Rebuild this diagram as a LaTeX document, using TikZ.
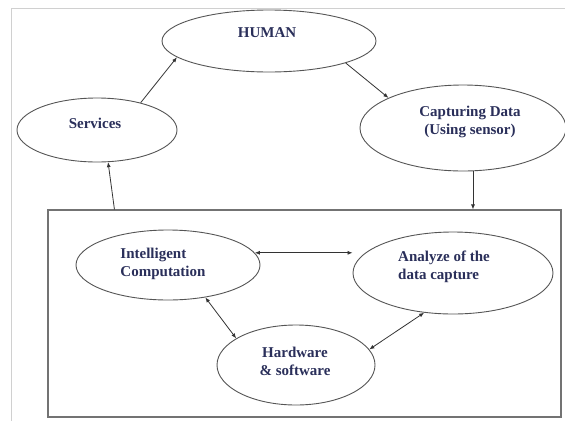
\documentclass[tikz,border=0pt]{standalone}
\usepackage{fontspec}
\setmainfont{Liberation Serif}
\usetikzlibrary{shapes.geometric,arrows.meta}
\definecolor{inkline}{HTML}{555555}
\definecolor{inktext}{HTML}{2A2F5A}
\definecolor{framegray}{HTML}{D0D0D0}
\tikzset{
  bubble/.style={ellipse, draw=inkline, line width=0.9pt, inner sep=0pt},
  caption/.style={text=inktext, font=\bfseries\fontsize{15}{18}\selectfont, inner sep=0pt},
  link/.style={draw=black!80, line width=0.8pt, -{Latex[length=5pt,width=4pt]}},
  duplex/.style={draw=black!80, line width=0.8pt, {Latex[length=5pt,width=4pt]}-{Latex[length=5pt,width=4pt]}},
  panel/.style={rectangle, draw=black!55, line width=1.1pt, inner sep=0pt}
}
\begin{document}
\begin{tikzpicture}[x=1pt,y=-1pt]
\useasboundingbox (0,0) rectangle (565,421);
\fill[white] (0,0) rectangle (565,421);
% light page frame
\draw[framegray, line width=1pt] (565,8) -- (11,8) -- (11,421);

% outer cycle
\node[bubble, minimum width=214pt, minimum height=62pt] (human) at (269,41) {};
\node[caption] (humanT) at (267,33) {HUMAN};

\node[bubble, minimum width=160pt, minimum height=64pt] (services) at (97,130) {};
\node[caption] (servicesT) at (95,123) {Services};

\node[bubble, minimum width=206pt, minimum height=86pt] (capture) at (463,128) {};
\node[caption, align=center] (captureT) at (470,122) {Capturing Data\\(Using sensor)};

% processing panel
\node[panel, minimum width=513pt, minimum height=207pt] (core) at (304.5,313.5) {};

\node[bubble, minimum width=184pt, minimum height=70pt] (intel) at (168,265) {};
\node[caption, align=left] (intelT) at (163,264) {Intelligent\\Computation};

\node[bubble, minimum width=200pt, minimum height=82pt] (analyze) at (453,273) {};
\node[caption, align=left] (analyzeT) at (444,267) {Analyze of the\\data capture};

\node[bubble, minimum width=158pt, minimum height=80pt] (hw) at (296,365) {};
\node[caption, align=center] (hwT) at (295,361) {Hardware\\\& software};

% connectors of the outer cycle
\draw[link] (services.32) -- (human.190);
\draw[link] (human.-16) -- (capture.158);
\draw[link] (capture.-77) -- (capture.-77 |- core.north);
\path (core.north west) ++(67,0) coordinate (tap);
\draw[link] (tap) -- (services.-71);

% connectors inside the panel
\draw[duplex] (intel.8) -- (intel.8 -| analyze.west);
\draw[duplex] (intel.-41) -- (hw.156);
\draw[duplex] (hw.12) -- (analyze.234);
\end{tikzpicture}
\end{document}
